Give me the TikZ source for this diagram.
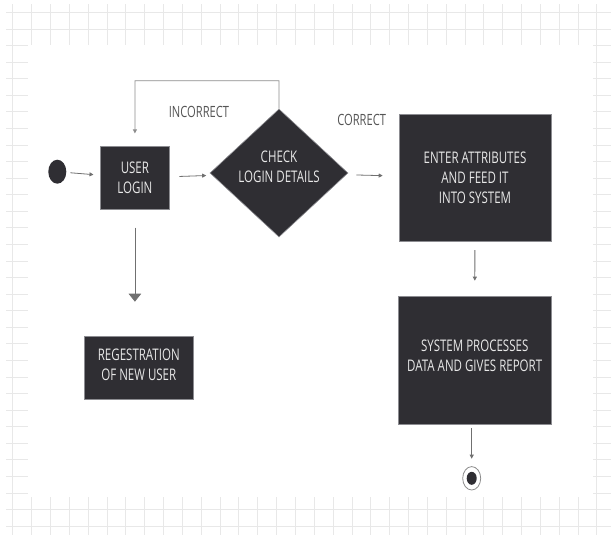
\documentclass[tikz,border=0pt]{standalone}
\usepackage{fontspec}
\setmainfont{Open Sans}[FakeStretch=0.72]
\usetikzlibrary{arrows.meta,shapes.geometric}
\definecolor{boxfill}{RGB}{47,46,51}
\definecolor{boxline}{RGB}{140,140,145}
\definecolor{boxtext}{RGB}{232,232,232}
\definecolor{arrowgray}{RGB}{112,112,112}
\definecolor{loopgray}{RGB}{140,140,140}
\definecolor{labelgray}{RGB}{85,85,85}
\definecolor{gridgray}{RGB}{232,232,232}
\tikzset{
  stepbox/.style={rectangle, fill=boxfill, draw=boxline, line width=0.6pt,
    text=boxtext, align=center, inner sep=0pt,
    font=\fontsize{16}{20}\selectfont},
  boxtextstyle/.style={text=boxtext, align=center, inner sep=0pt,
    font=\fontsize{16}{20}\selectfont},
  decision/.style={diamond, fill=boxfill, draw=boxline, line width=0.6pt,
    inner sep=0pt},
  flowlabel/.style={text=labelgray, inner sep=0pt,
    font=\fontsize{15.5}{20}\selectfont},
  flow/.style={draw=arrowgray, line width=0.8pt,
    -{Triangle[length=4pt,width=4pt]}},
  bigflow/.style={draw=arrowgray, line width=0.8pt,
    -{Triangle[length=8pt,width=12.5pt]}},
  loopflow/.style={draw=loopgray, line width=0.8pt,
    -{Triangle[length=4pt,width=4pt]}},
}
\begin{document}
\begin{tikzpicture}[x=1pt,y=-1pt]
  \useasboundingbox (0,0) rectangle (611,536);
  % background grid and white sheet
  \foreach \k in {0,...,31}
    \draw[gridgray, line width=0.6pt] ({12.7+18.84*\k},4) -- ({12.7+18.84*\k},535);
  \foreach \k in {0,...,31}
    \draw[gridgray, line width=0.6pt] (6,{12.3+16.57*\k}) -- (611,{12.3+16.57*\k});
  \fill[white] (28,45) rectangle (593,497);

  % nodes
  \node[ellipse, fill=boxfill, minimum width=18pt, minimum height=24pt,
        inner sep=0pt] (start) at (57.3,171.7) {};
  \node[stepbox, minimum width=68.3pt, minimum height=62.6pt] (login)
        at (134.9,178) {USER\\LOGIN};
  \node[decision, minimum width=138pt, minimum height=128pt] (check)
        at (279,173) {};
  \node[boxtextstyle] (checktext) at (279,167) {CHECK\\LOGIN DETAILS};
  \node[stepbox, minimum width=152pt, minimum height=127.4pt] (enter)
        at (475,178) {ENTER ATTRIBUTES\\AND FEED IT\\INTO SYSTEM};
  \node[stepbox, minimum width=152.7pt, minimum height=128pt] (system)
        at (474.7,360) {};
  \node[boxtextstyle] (systemtext) at (474.7,355.5)
        {SYSTEM PROCESSES\\DATA AND GIVES REPORT};
  \node[stepbox, minimum width=109pt, minimum height=63pt] (reg)
        at (138.8,367.5) {};
  \node[boxtextstyle] (regtext) at (138.8,364.5) {REGESTRATION\\OF NEW USER};
  \node[ellipse, draw=loopgray, fill=white, line width=0.8pt,
        minimum width=18pt, minimum height=23.4pt, inner sep=0pt] (finish)
        at (471.7,478.3) {};
  \fill[boxfill] (finish.center) ellipse [x radius=5pt, y radius=6.5pt];

  % labels
  \node[flowlabel] (lblincorrect) at (199,112) {INCORRECT};
  \node[flowlabel] (lblcorrect) at (361.7,120) {CORRECT};

  % connectors
  \draw[flow, shorten <=4pt, shorten >=7pt] (start) -- (login);
  \draw[flow, shorten <=10pt, shorten >=6pt] (login) -- (check);
  \draw[flow, shorten <=10pt, shorten >=16pt] (check) -- (enter);
  \draw[loopflow, shorten >=13pt] (check.north) |- (135,80.7) -- (login.north);
  \draw[flow, shorten <=8pt, shorten >=15pt] (enter) -- (system);
  \draw[flow, shorten <=4pt, shorten >=7.5pt] (system.south -| finish) -- (finish);
  \draw[bigflow, shorten <=18pt, shorten >=34pt] (login.south) -- (login.south |- reg.north);
\end{tikzpicture}
\end{document}
